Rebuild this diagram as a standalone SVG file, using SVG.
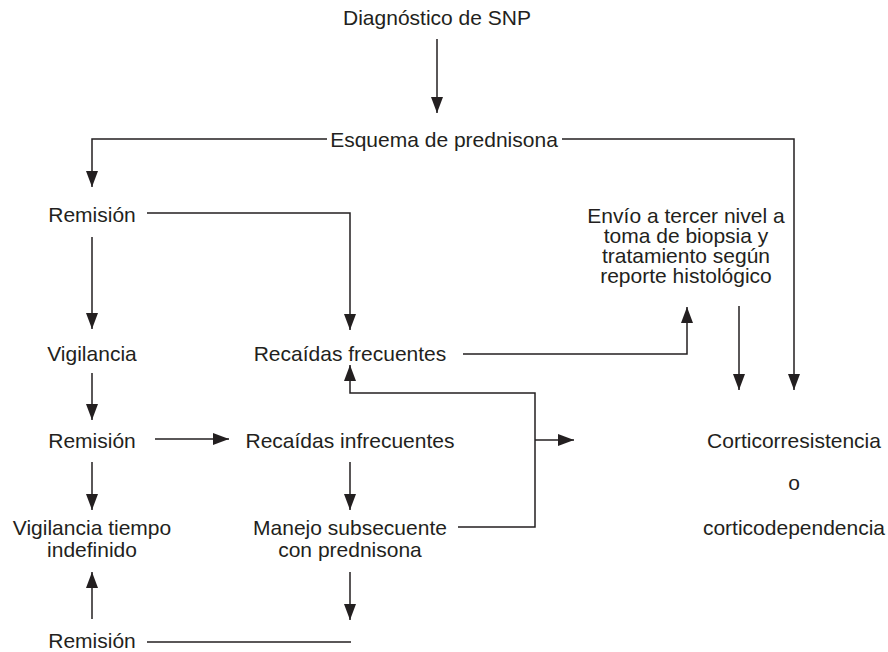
<svg xmlns="http://www.w3.org/2000/svg" width="888" height="652" viewBox="0 0 888 652">
<style>
text{font-family:"Liberation Sans",Arial,Helvetica,sans-serif;font-size:21px;fill:#231f20;text-anchor:middle}
.c path{fill:none;stroke:#231f20;stroke-width:1.5}
</style>
<defs>
<marker id="ah" markerUnits="userSpaceOnUse" viewBox="0 0 16 12" refX="16" refY="6" markerWidth="16" markerHeight="12" orient="auto">
<path d="M0,0 L16,6 L0,12 z" fill="#231f20"/>
</marker>
</defs>
<rect width="888" height="652" fill="#fff"/>
<g class="c">
<path d="M437,39 V113" marker-end="url(#ah)"/>
<path d="M327,139 H92 V187" marker-end="url(#ah)"/>
<path d="M562,139 H794 V390" marker-end="url(#ah)"/>
<path d="M147,213 H350 V330" marker-end="url(#ah)"/>
<path d="M92,237 V329" marker-end="url(#ah)"/>
<path d="M463,354 H687 V307" marker-end="url(#ah)"/>
<path d="M739,306 V390" marker-end="url(#ah)"/>
<path d="M92,373 V420" marker-end="url(#ah)"/>
<path d="M155,439 H229" marker-end="url(#ah)"/>
<path d="M92,462 V510" marker-end="url(#ah)"/>
<path d="M350,462 V510" marker-end="url(#ah)"/>
<path d="M92,619 V572" marker-end="url(#ah)"/>
<path d="M350,572 V620" marker-end="url(#ah)"/>
<path d="M147,642 H351"/>
<path d="M458,527 H535 V393 H350 V365" marker-end="url(#ah)"/>
<path d="M535,440 H574" marker-end="url(#ah)"/>
</g>
<g id="diagnostico"><text x="437" y="25">Diagnóstico de SNP</text></g>
<g id="esquema"><text x="444" y="147">Esquema de prednisona</text></g>
<g id="remision1"><text x="92" y="222">Remisión</text></g>
<g id="envio"><text x="686" y="223">Envío a tercer nivel a</text><text x="686" y="243">toma de biopsia y</text><text x="686" y="263">tratamiento según</text><text x="686" y="283">reporte histológico</text></g>
<g id="vigilancia"><text x="92" y="361">Vigilancia</text></g>
<g id="recaidas-frec"><text x="350" y="361">Recaídas frecuentes</text></g>
<g id="remision2"><text x="92" y="448">Remisión</text></g>
<g id="recaidas-infrec"><text x="350" y="448">Recaídas infrecuentes</text></g>
<g id="cortico"><text x="794" y="448">Corticorresistencia</text><text x="794" y="490">o</text><text x="794" y="535">corticodependencia</text></g>
<g id="vigilancia-tiempo"><text x="92" y="535">Vigilancia tiempo</text><text x="92" y="557">indefinido</text></g>
<g id="manejo"><text x="350" y="535">Manejo subsecuente</text><text x="350" y="557">con prednisona</text></g>
<g id="remision3"><text x="92" y="648">Remisión</text></g>
</svg>
